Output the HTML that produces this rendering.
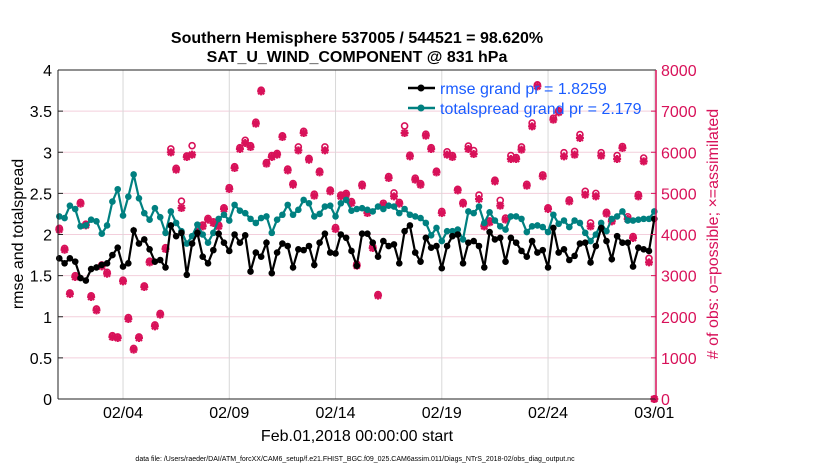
<!DOCTYPE html>
<html><head><meta charset="utf-8"><style>
body{margin:0;background:#fff;}
svg{display:block;font-family:"Liberation Sans",sans-serif;}
</style></head><body>
<svg id="chart" width="830" height="470" viewBox="0 0 830 470">
<text x="357" y="43" text-anchor="middle" font-size="16" font-weight="bold">Southern Hemisphere 537005 / 544521 = 98.620%</text>
<text x="357" y="62" text-anchor="middle" font-size="16" font-weight="bold">SAT_U_WIND_COMPONENT @ 831 hPa</text>
<g id="grid"></g>
<g id="marks"></g>
<g id="axes"></g>
<text transform="translate(23,234) rotate(-90)" text-anchor="middle" font-size="16">rmse and totalspread</text>
<text transform="translate(718,234) rotate(-90)" text-anchor="middle" font-size="16" fill="#d81159"># of obs: o=possible; ×=assimilated</text>
<text x="357" y="441" text-anchor="middle" font-size="16">Feb.01,2018 00:00:00 start</text>
<text x="355" y="461" text-anchor="middle" font-size="7">data file: /Users/raeder/DAI/ATM_forcXX/CAM6_setup/f.e21.FHIST_BGC.f09_025.CAM6assim.011/Diags_NTrS_2018-02/obs_diag_output.nc</text>
<g id="legend">
<line x1="408" y1="88" x2="435" y2="88" stroke="#000" stroke-width="2.5"/>
<circle cx="421" cy="88" r="3.5" fill="#000"/>
<text x="440" y="94" font-size="16" fill="#1a5cff">rmse grand pr = 1.8259</text>
<line x1="408" y1="108" x2="435" y2="108" stroke="#008080" stroke-width="2.5"/>
<circle cx="421" cy="108" r="3.5" fill="#008080"/>
<text x="440" y="114" font-size="16" fill="#1a5cff">totalspread grand pr = 2.179</text>
</g>
</svg>
<script>
const leftTicks=[0,0.5,1,1.5,2,2.5,3,3.5,4];
const rightTicks=[0,1000,2000,3000,4000,5000,6000,7000,8000];
const dateTicks=[3,8,13,18,23,28];
const dateLabels=["02/04","02/09","02/14","02/19","02/24","03/01"];
const rmse=[1.71,1.65,1.71,1.67,1.47,1.44,1.58,1.60,1.63,1.65,1.75,1.84,1.61,1.65,2.05,1.89,1.94,1.82,1.67,1.69,1.60,2.11,1.98,2.02,1.51,1.89,2.02,1.73,1.65,
1.81,2.01,1.90,1.80,2.00,1.90,1.99,1.55,1.78,1.73,1.90,1.53,1.78,1.89,1.86,1.60,1.82,1.81,1.86,1.63,1.90,2.01,1.78,1.77,2.00,1.96,1.80,1.62,2.01,
2.01,1.90,1.73,1.92,1.86,1.88,1.65,2.04,2.11,1.78,1.67,1.96,1.84,1.86,1.59,1.86,1.98,2.00,1.65,1.90,1.92,1.86,1.60,2.03,1.94,1.96,1.67,
1.96,1.90,1.80,1.73,1.92,1.78,1.81,1.60,2.08,1.78,1.82,1.69,1.74,1.89,1.90,1.66,1.86,2.08,1.92,1.70,1.98,1.90,1.90,1.61,1.84,1.82,1.80,2.19];
const spread=[2.22,2.20,2.35,2.31,2.10,2.11,2.18,2.16,2.01,2.11,2.40,2.55,2.23,2.46,2.73,2.44,2.26,2.18,2.32,2.21,2.02,2.28,2.14,2.04,1.89,1.98,2.12,2.00,1.90,
2.02,2.19,2.24,2.17,2.36,2.29,2.26,2.19,2.14,2.20,2.22,2.02,2.18,2.24,2.36,2.24,2.30,2.42,2.38,2.22,2.25,2.34,2.35,2.22,2.38,2.42,2.29,2.31,2.32,
2.30,2.28,2.34,2.31,2.35,2.34,2.26,2.31,2.24,2.22,2.20,2.14,1.99,2.08,1.92,2.04,2.04,2.06,1.94,2.28,2.26,2.34,2.14,2.27,2.17,2.10,2.06,
2.22,2.22,2.19,2.03,2.10,2.11,2.09,2.03,2.24,2.13,2.17,2.09,2.17,2.14,2.02,1.92,2.00,2.14,2.04,2.19,2.22,2.28,2.17,2.17,2.18,2.19,2.19,2.28];
const obsAssim=[4118,3630,2553,2966,4750,4223,2480,2156,3226,3047,1508,1483,2861,1945,1200,1483,2723,3323,1767,2051,3647,5998,5576,4644,5884,5941,4036,4199,4361,
4280,4199,4620,5107,5617,6079,6225,6128,6695,7481,5722,5884,5941,6371,5560,5211,6047,6468,5819,4944,5511,6047,5050,4134,4928,4968,4766,3242,5187,
4523,3671,2513,4726,5374,4928,4750,6468,5900,5333,5211,6403,6079,5511,4523,5941,5884,5074,4750,6079,5957,4863,4199,4296,5292,4701,4361,
5836,5836,6063,5187,6630,7603,5414,4620,6792,6970,5900,4806,5941,6347,4968,4199,4928,5917,4507,4320,5836,6103,4377,3915,4928,5779,3323,0];
const obsPossible=[4150,3660,2580,3000,4780,4250,2510,2190,3260,3080,1540,1510,2890,1980,1230,1510,2750,3350,1800,2080,3680,6080,5610,4810,5910,6160,4070,4230,4390,
4310,4230,4650,5140,5650,6110,6290,6160,6730,7510,5750,5920,5970,6400,5590,5240,6130,6510,5850,4980,5540,6130,5080,4170,4960,5000,4800,3280,5220,
4560,3700,2540,4760,5410,5010,4780,6640,5930,5370,5240,6440,6110,5540,4560,6010,5920,5100,4780,6150,6040,4960,4230,4330,5320,4830,4400,
5920,5870,6130,5220,6710,7640,5450,4650,6830,7010,5990,4840,6020,6430,5050,4280,5000,5990,4540,4360,5920,6140,4430,3950,4970,5860,3420,0];

const NS="http://www.w3.org/2000/svg";
const X0=58,X1=656,Y0=399,Y1=70,T0=-0.06,T1=28.08;
function xs(t){return X0+(t-T0)/(T1-T0)*(X1-X0);}
function yl(v){return Y0-v/4*(Y0-Y1);}
function yr(v){return Y0-v/8000*(Y0-Y1);}
function mk(tag,attrs,parent){const e=document.createElementNS(NS,tag);for(const k in attrs)e.setAttribute(k,attrs[k]);parent.appendChild(e);return e;}
const grid=document.getElementById('grid'),marks=document.getElementById('marks'),axes=document.getElementById('axes');
mk('rect',{x:X0,y:Y1,width:X1-X0,height:Y0-Y1,fill:'#fff'},grid);
leftTicks.forEach(v=>{
 const g=mk('line',{x1:X0,x2:X1,y1:yl(v),y2:yl(v),stroke:'#f3cfdc','stroke-width':1},grid);
 
 
 const t=mk('text',{x:X0-6,y:yl(v)+6,'text-anchor':'end','font-size':16},axes);
 t.textContent=String(v);
 
 
 mk('line',{x1:X0,x2:X0+5,y1:yl(v),y2:yl(v),stroke:'#222'},axes);
});
rightTicks.forEach(v=>{
 const t=mk('text',{x:X1+5,y:yr(v)+6,'font-size':16,fill:'#d81159'},axes);
 t.textContent=String(v);
 
 
 mk('line',{x1:X1-5,x2:X1,y1:yr(v),y2:yr(v),stroke:'#d81159'},axes);
});
dateTicks.forEach((d,i)=>{
 const g=mk('line',{x1:xs(d),x2:xs(d),y1:Y1,y2:Y0,stroke:'#d8d8d8','stroke-width':1},grid);
 
 
 const t=mk('text',{x:xs(d),y:Y0+19,'text-anchor':'middle','font-size':16},axes);
 t.textContent=dateLabels[i];
 
 
});
mk('line',{x1:X0,x2:X1,y1:Y1,y2:Y1,stroke:'#222'},axes);
mk('line',{x1:X0,x2:X1,y1:Y0,y2:Y0,stroke:'#222'},axes);
mk('line',{x1:X0,x2:X0,y1:Y1,y2:Y0,stroke:'#222'},axes);
mk('line',{x1:X1,x2:X1,y1:Y1,y2:Y0,stroke:'#d81159','stroke-width':1.5},axes);

const OC='#d81159';
obsPossible.forEach((v,i)=>{
 const c=mk('circle',{cx:xs(i/4),cy:yr(v),r:3,fill:'none',stroke:OC,'stroke-width':1.6},marks);
 
 
});
obsAssim.forEach((v,i)=>{
 const x=xs(i/4),y=yr(v),s=4;
 const p=mk('path',{d:`M${x-s},${y}H${x+s}M${x},${y-s}V${y+s}M${x-3},${y-3}L${x+3},${y+3}M${x-3},${y+3}L${x+3},${y-3}`,stroke:OC,'stroke-width':2.2,fill:'none'},marks);
 
 
});
function series(arr,color,name){
 const d=arr.map((v,i)=>(i?'L':'M')+xs(i/4).toFixed(1)+','+yl(v).toFixed(1)).join('');
 const p=mk('path',{d:d,stroke:color,'stroke-width':2.2,fill:'none'},marks);
 
 
 arr.forEach((v,i)=>{
  const c=mk('circle',{cx:xs(i/4),cy:yl(v),r:3.3,fill:color},marks);
  
  
 });
}
series(spread,'#008080','totalspread');
series(rmse,'#000000','rmse');
</script>
</body></html>
